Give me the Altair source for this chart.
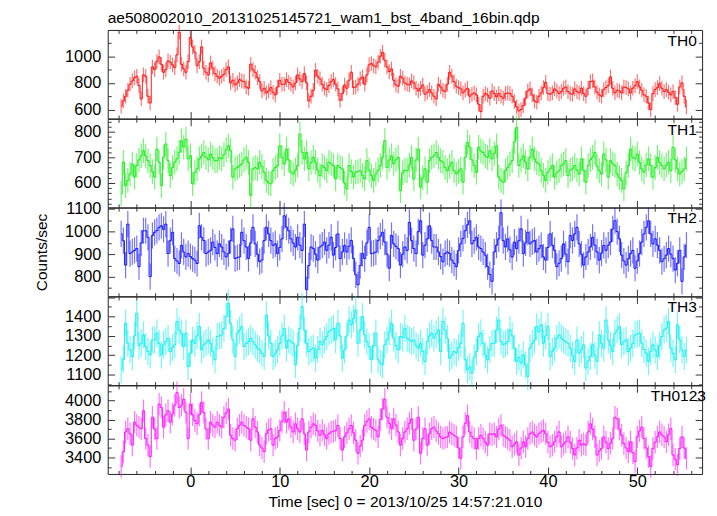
import altair as alt
import pandas as pd

# ---------------- data ----------------
t_start = -7.75      # centre of first bin [s]
bin_width = 0.25     # s

th0 = [625,665,700,745,790,815,840,850,780,680,860,850,700,650,920,900,
       960,995,940,880,900,965,955,935,915,1010,1180,940,905,880,960,1140,
       1070,1030,930,960,1070,910,880,860,950,910,870,850,835,850,865,900,
       920,800,820,785,800,825,815,810,770,760,940,900,880,840,810,740,
       760,725,740,765,730,710,770,820,790,790,825,805,790,770,800,860,
       830,810,870,800,665,700,745,895,850,830,790,760,750,780,810,825,
       790,755,670,720,785,760,820,880,765,770,790,830,845,790,860,935,
       945,930,920,955,1000,1030,970,920,885,905,820,785,775,850,835,800,
       790,785,815,800,760,740,760,785,715,730,750,725,700,680,790,770,
       745,735,790,880,850,810,775,765,755,725,745,760,700,715,725,710,
       640,585,700,720,710,685,740,720,695,720,700,685,720,725,720,700,
       660,620,590,600,630,685,740,755,710,665,655,700,725,765,805,720,
       715,725,755,740,720,735,760,770,735,720,715,755,735,725,760,720,
       700,760,810,815,770,730,710,700,750,765,780,845,760,725,745,740,
       725,770,765,755,725,760,780,810,770,745,710,700,650,600,720,750,
       765,795,760,735,750,730,710,735,690,640,770,800,700,620]

th1 = [558,681,590,610,635,674,623,668,690,706,726,705,687,668,645,623,
       732,681,590,700,752,687,629,660,681,694,720,765,740,771,694,706,
       597,640,655,694,705,719,700,690,713,700,687,687,700,694,710,730,
       745,726,623,655,660,668,674,690,700,680,552,655,660,655,681,665,
       642,610,600,597,648,660,668,745,700,674,732,690,642,635,650,668,
       790,720,694,719,655,680,700,681,650,629,668,660,648,681,675,668,
       616,668,660,655,600,577,668,645,623,642,645,648,630,616,687,650,
       629,610,635,650,668,700,765,661,690,706,674,690,700,570,640,650,
       648,670,700,616,690,732,584,620,655,603,687,700,706,719,700,687,
       681,660,648,665,681,648,635,645,655,603,700,758,739,690,668,642,
       739,725,719,705,700,726,694,715,745,623,610,603,648,660,674,687,
       760,816,668,690,706,681,655,700,732,694,680,674,648,630,610,642,
       655,668,623,640,648,668,675,687,629,650,655,668,650,635,694,650,
       603,668,690,700,719,665,648,635,713,690,623,687,675,668,635,620,
       610,577,640,668,732,700,694,713,680,655,642,670,694,668,623,660,
       700,680,668,655,670,681,648,739,690,655,635,645,655,694]

th2 = [990,960,852,1033,903,910,917,925,845,950,1004,1004,975,801,983,997,
       1005,1019,1026,1010,1033,903,960,997,881,870,859,939,910,888,903,890,
       881,874,859,1026,975,961,903,910,917,954,930,903,946,932,910,888,
       903,960,1012,881,885,888,997,960,932,881,950,1019,946,900,867,874,
       960,1019,990,960,939,946,903,930,968,1070,1020,1004,968,950,932,975,
       940,917,1033,743,850,932,925,900,874,932,940,954,917,940,975,896,
       930,990,881,910,939,910,935,961,881,809,765,850,903,881,950,1019,
       903,905,910,961,980,997,954,900,838,983,946,935,925,852,900,932,
       917,1041,960,925,903,1000,1048,896,940,968,1026,960,932,932,910,890,
       867,903,910,903,874,860,845,917,946,970,1004,1030,1048,946,960,975,
       932,925,910,896,845,810,780,910,940,968,1084,960,932,968,920,888,
       954,925,960,1012,903,950,997,946,955,961,910,925,939,888,874,930,
       990,940,917,845,860,881,946,900,867,983,961,990,1019,946,900,852,
       888,910,932,975,940,910,874,905,939,917,940,954,1012,1048,1000,968,
       896,870,852,880,903,917,838,870,903,954,990,1019,1048,990,946,968,
       940,917,867,880,896,925,900,881,830,860,917,780,888,940]

th3 = [1125,1180,1365,1262,1228,1194,1300,1417,1250,1262,1305,1245,1220,1202,1279,1279,
       1314,1260,1202,1254,1270,1288,1219,1240,1254,1374,1330,1314,1245,1314,1142,1210,
       1279,1262,1300,1348,1228,1254,1265,1279,1262,1220,1177,1297,1300,1305,1339,1400,
       1468,1365,1280,1194,1314,1330,1348,1245,1260,1271,1288,1270,1254,1237,1228,1210,
       1194,1408,1300,1262,1194,1210,1228,1262,1300,1339,1237,1279,1270,1262,1151,1250,
       1339,1451,1330,1262,1219,1230,1237,1185,1230,1271,1254,1280,1297,1322,1330,1339,
       1279,1365,1300,1185,1228,1300,1382,1357,1390,1434,1262,1330,1400,1305,1270,1245,
       1177,1250,1314,1177,1160,1151,1254,1279,1320,1365,1288,1250,1228,1297,1290,1339,
       1288,1280,1271,1279,1250,1237,1262,1220,1168,1271,1300,1314,1288,1310,1331,1219,
       1374,1330,1288,1185,1200,1219,1211,1240,1262,1365,1177,1125,1140,1108,1190,1219,
       1297,1314,1260,1202,1177,1230,1262,1262,1330,1382,1271,1254,1260,1271,1331,1300,
       1237,1168,1190,1160,1202,1150,1091,1237,1260,1279,1348,1320,1357,1262,1300,1348,
       1194,1220,1237,1288,1305,1290,1279,1270,1262,1237,1200,1168,1279,1211,1230,1254,
       1134,1170,1194,1254,1200,1168,1305,1260,1237,1382,1279,1250,1219,1314,1330,1348,
       1254,1270,1279,1219,1237,1260,1305,1310,1314,1262,1230,1211,1168,1220,1254,1228,
       1194,1250,1297,1331,1340,1374,1237,1210,1177,1357,1280,1228,1194,1228]

th0123 = [3305,3461,3669,3703,3651,3530,3772,3738,3720,3703,3893,3600,3530,3409,3824,3700,
          3599,3963,3928,3720,3850,3893,3772,3859,3950,4084,3928,3950,4014,3876,3599,3963,
          3850,3790,3755,3850,3980,3876,3700,3599,3772,3740,3720,3772,3740,3720,3824,3870,
          3911,3634,3600,3582,3703,3740,3772,3738,3720,3703,3582,3807,3720,3669,3530,3500,
          3461,3651,3690,3703,3530,3600,3617,3686,3780,3876,3772,3807,3720,3669,3755,3700,
          3669,3807,3650,3478,3669,3720,3755,3738,3680,3634,3686,3640,3599,3651,3669,3675,
          3686,3738,3600,3478,3617,3660,3703,3738,3660,3582,3444,3520,3582,3738,3780,3807,
          3720,3700,3686,3617,3800,3911,4014,3824,3760,3703,3807,3740,3669,3530,3600,3669,
          3703,3760,3807,3582,3700,3824,3444,3600,3703,3530,3650,3703,3720,3680,3651,3617,
          3599,3610,3617,3669,3650,3634,3617,3500,3392,3617,3760,3841,3669,3620,3599,3495,
          3600,3634,3599,3560,3530,3651,3640,3651,3617,3700,3738,3634,3617,3600,3582,3513,
          3540,3565,3426,3500,3565,3513,3600,3651,3669,3640,3617,3651,3670,3686,3651,3560,
          3513,3530,3565,3620,3669,3513,3540,3565,3617,3560,3495,3426,3500,3582,3530,3545,
          3530,3669,3755,3700,3617,3426,3470,3495,3617,3560,3495,3550,3599,3824,3807,3700,
          3634,3547,3500,3461,3565,3450,3357,3617,3680,3720,3599,3500,3409,3305,3495,3560,
          3617,3669,3640,3617,3565,3640,3703,3426,3380,3322,3495,3617,3500,3392]

series = [th0, th1, th2, th3, th0123]
names = ["TH0", "TH1", "TH2", "TH3", "TH0123"]
errors = [55, 48, 58, 70, 118]                     # 1-sigma, counts/sec
y_domains = [[533, 1197], [505, 850], [714, 1106], [1046, 1503], [3226, 4160]]
y_labels = [[600, 800, 1000], [600, 700, 800], [800, 900, 1000, 1100],
            [1100, 1200, 1300, 1400], [3400, 3600, 3800, 4000]]
y_minor = [100, 20, 50, 50, 100]
y_major = [200, 100, 100, 100, 200]
x_labels = [0, 10, 20, 30, 40, 50]
x_domain = [-9.25, 57.25]
title_text = "ae508002010_20131025145721_wam1_bst_4band_16bin.qdp"
x_title = "Time [sec] 0 = 2013/10/25 14:57:21.010"
y_title = "Counts/sec"

# ---------------- style ----------------
colors = ["#ff0000", "#00ee00", "#0000ff", "#00eeee", "#ff00ff"]
label_x = [567, 567, 567, 567, 550]
W = 602
H = 89.7
FONT = "Liberation Sans"
TICK = "#333333"
FS_LAB = 16.5
FS_TXT = 15.7

x_ticks = list(range(-8, 57, 2))


def tsize(step):
    return {"condition": {"test": f"datum.value % {step} === 0", "value": 7}, "value": 3.5}


def make_panel(i):
    vals = series[i]
    df = pd.DataFrame({
        "t": [t_start + bin_width * k for k in range(len(vals))],
        "v": vals,
    })
    df["lo"] = df["v"] - errors[i]
    df["hi"] = df["v"] + errors[i]
    lo, hi = y_domains[i]
    first = (lo // y_minor[i] + 1) * y_minor[i]
    y_ticks = list(range(int(first), int(hi) + 1, y_minor[i]))

    xs = alt.Scale(domain=x_domain, nice=False, zero=False)
    ys = alt.Scale(domain=y_domains[i], nice=False, zero=False)
    base = alt.Chart(df)

    if i == 4:
        x_axis = alt.Axis(orient="bottom", values=x_labels, ticks=False, tickSize=0,
                          domain=False, grid=False, labelFontSize=FS_LAB, labelPadding=0,
                          labelColor="black", labelFont=FONT, format="d", title=x_title,
                          titleFontSize=FS_TXT, titleFontWeight="normal", titleFont=FONT,
                          titleColor="black", titlePadding=4)
    else:
        x_axis = None

    y_kw = dict(orient="left", values=y_labels[i], ticks=False, tickSize=0, domain=False,
                grid=False, labelFontSize=FS_LAB, labelPadding=7, labelColor="black",
                labelFont=FONT, labelOverlap=False, format="d")
    if i == 2:
        y_axis = alt.Axis(title=y_title, titleFontSize=FS_TXT, titleFontWeight="normal",
                          titleFont=FONT, titleColor="black", titlePadding=15, **y_kw)
    else:
        y_axis = alt.Axis(title=None, **y_kw)

    err = base.mark_rule(color=colors[i], opacity=0.55, strokeWidth=1.2).encode(
        x=alt.X("t:Q", scale=xs, axis=x_axis),
        y=alt.Y("lo:Q", scale=ys, axis=y_axis),
        y2="hi:Q",
    )
    line = base.mark_line(color=colors[i], strokeWidth=1, interpolate="step",
                          opacity=0.9).encode(
        x=alt.X("t:Q", scale=xs, axis=None),
        y=alt.Y("v:Q", scale=ys, axis=None),
    )

    def tick_layer(yorient, xorient):
        return base.mark_point(opacity=0, size=1).encode(
            x=alt.X("t:Q", scale=xs, axis=alt.Axis(
                orient=xorient, offset=-H, values=x_ticks, labels=False, domain=False,
                grid=False, tickSize=tsize(10), tickColor=TICK, tickWidth=1, title=None)),
            y=alt.Y("v:Q", scale=ys, axis=alt.Axis(
                orient=yorient, offset=-W, values=y_ticks, labels=False, domain=False,
                grid=False, tickSize=tsize(y_major[i]), tickColor=TICK, tickWidth=1,
                title=None)),
        )

    tk1 = tick_layer("right", "top")
    tk2 = tick_layer("left", "bottom")

    txt = alt.Chart(pd.DataFrame({"name": [names[i]]})).mark_text(
        align="left", baseline="alphabetic", fontSize=FS_TXT, font=FONT, color="black"
    ).encode(text="name:N", x=alt.value(label_x[i]), y=alt.value(16))

    return alt.layer(err, line, tk1, tk2, txt).resolve_scale(
        x="independent", y="independent").properties(width=W, height=H)


panels = [make_panel(i) for i in range(5)]

chart = alt.vconcat(
    *panels, spacing=0, bounds="flush",
    padding={"left": 25, "top": -2, "right": 2, "bottom": 2},
    title=alt.TitleParams(text=title_text, anchor="start", frame="group", fontSize=FS_TXT,
                          font=FONT, fontWeight="normal", color="black", offset=-2.5),
).configure_view(stroke="#222222", strokeWidth=1)

chart.save("out.html", embed_options={"renderer": "svg", "actions": False})
